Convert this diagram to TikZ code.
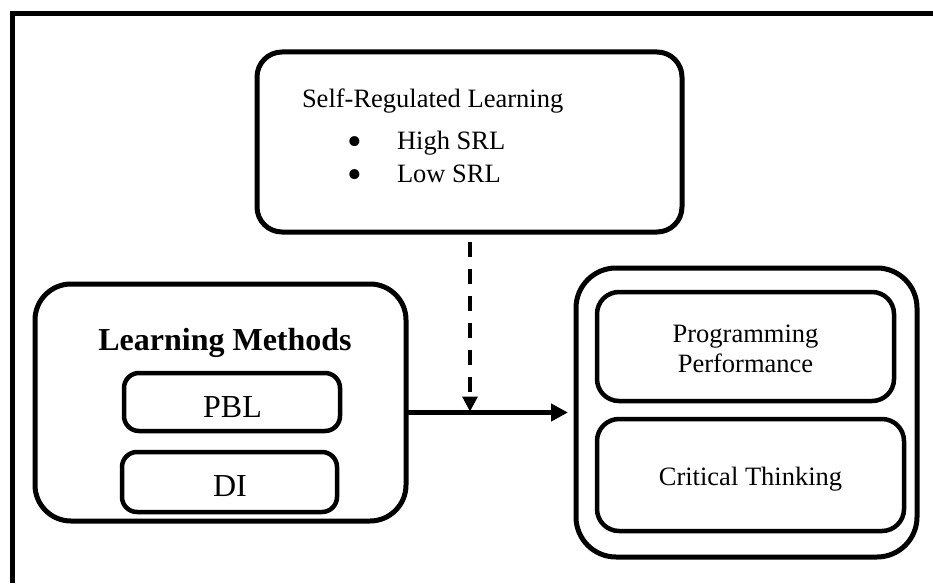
\documentclass[tikz,border=0pt]{standalone}
\usepackage{fontspec}
\setmainfont{Liberation Serif}
\usetikzlibrary{arrows.meta}
\begin{document}
\begin{tikzpicture}[x=1pt,y=-1pt,
  box/.style={draw=black,rectangle,inner sep=0pt,outer sep=0pt,fill=white},
  txt/.style={inner sep=0pt,outer sep=0pt,anchor=base,font=\fontsize{26.5}{30}\selectfont},
  bul/.style={inner sep=0pt,outer sep=0pt,anchor=base,align=center,font=\fontsize{42}{33}\selectfont},
  bigtxt/.style={inner sep=0pt,outer sep=0pt,anchor=base,font=\fontsize{32}{36}\selectfont},
  conn/.style={line width=5pt,-{Triangle[length=17pt,width=17pt]}},
  dconn/.style={line width=3.2pt,dash pattern=on 15pt off 12pt,-{Triangle[length=15pt,width=15pt]}}
]
\useasboundingbox (0,0) rectangle (933,583);
% outer frame
\draw[line width=5pt,line join=miter] (12.5,583) -- (12.5,13.5) -- (933,13.5);

% Self-Regulated Learning box
\node[box,line width=5pt,rounded corners=25pt,minimum width=425pt,minimum height=180pt] (srl) at (469.5,142) {};
\node[txt,anchor=base west] (srlt) at (302,107) {Self-Regulated Learning};
\node[bul] (bl) at (355,188.5) {•\\•};
\node[txt,anchor=base west] (hi) at (397,149) {High SRL};
\node[txt,anchor=base west] (lo) at (397,182) {Low SRL};

% Learning Methods box
\node[box,line width=5pt,rounded corners=36pt,minimum width=371pt,minimum height=237pt] (lm) at (220.5,402.5) {};
\node[bigtxt,font=\fontsize{32}{36}\selectfont\bfseries] (lmt) at (225,350) {Learning Methods};
\node[box,line width=4.5pt,rounded corners=15pt,minimum width=216pt,minimum height=58pt] (pbl) at (232,402) {};
\node[bigtxt] (pblt) at (232.5,417) {PBL};
\node[box,line width=4.5pt,rounded corners=15pt,minimum width=215pt,minimum height=60pt] (di) at (229.5,482) {};
\node[bigtxt] (dit) at (230,496) {DI};

% Outcomes box
\node[box,line width=5pt,rounded corners=40pt,minimum width=341pt,minimum height=289pt] (out) at (746.5,412.5) {};
\node[box,line width=4.5pt,rounded corners=22pt,minimum width=297pt,minimum height=109pt] (pp) at (745.5,346.5) {};
\node[txt] (ppt1) at (745.5,342) {Programming};
\node[txt] (ppt2) at (745.5,372) {Performance};
\node[box,line width=4.5pt,rounded corners=22pt,minimum width=307pt,minimum height=112pt] (ct) at (750.5,475) {};
\node[txt] (ctt) at (750.5,485) {Critical Thinking};

% connectors
\coordinate (mid) at (470,412.5);
\coordinate (dtop) at (470,242);
\draw[conn,shorten >=8pt] (lm.east |- mid) -- (out.west |- mid);
\draw[dconn,shorten >=1pt] (dtop) -- (mid);
\end{tikzpicture}
\end{document}
